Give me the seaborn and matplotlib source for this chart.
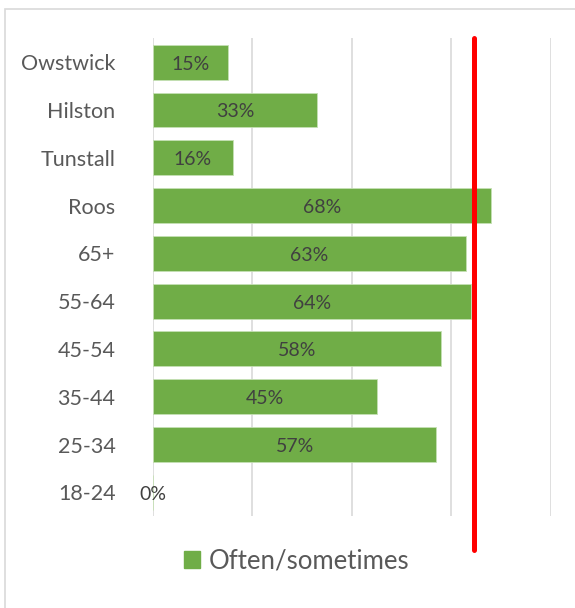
import pandas as pd
import seaborn as sns
from matplotlib import pyplot as plt
from matplotlib.patches import Patch, Rectangle

categories = ["Owstwick", "Hilston", "Tunstall", "Roos", "65+", "55-64",
              "45-54", "35-44", "25-34", "18-24"]
values = [15, 33, 16, 68, 63, 64, 58, 45, 57, 0]
series_name = "Often/sometimes"
reference = 64.5

sns.set_theme(style="white")
plt.rcParams['font.family'] = ['Lato', 'DejaVu Sans']

df = pd.DataFrame({"Area": categories, "Share": values})

fig = plt.figure(figsize=(5.75, 6.08), dpi=100)
ax = fig.add_axes([0.266, 0.151, 0.692, 0.786])

sns.barplot(data=df, x="Share", y="Area", orient="h", color="#70AD47",
            saturation=1, width=0.73, edgecolor="#c5e0b4", linewidth=0.6, ax=ax)

ax.set_xlim(0, 80)
ax.set_xticks([0, 20, 40, 60, 80])
ax.xaxis.grid(True, color="#d9d9d9", linewidth=1.2)
ax.set_axisbelow(True)
ax.tick_params(axis="x", labelbottom=False, length=0)
ax.tick_params(axis="y", length=0, labelsize=15.5, labelcolor="#595959", pad=27)
ax.set_xlabel("")
ax.set_ylabel("")
for s in ax.spines.values():
    s.set_visible(False)

for i, v in enumerate(values):
    ax.text(v / 2, i + 0.04, f"{v}%", ha="center", va="center", fontsize=14, color="#404040")

ax.axvline(reference, ymin=-0.071, ymax=1.0, clip_on=False, color="#ff0000", linewidth=3.6)

ax.legend(handles=[Patch(color="#70AD47", label=series_name)], loc="center",
          bbox_to_anchor=(0.516, 0.077), bbox_transform=fig.transFigure, frameon=False,
          fontsize=18.5, labelcolor="#595959", handlelength=0.6, handleheight=0.6,
          handletextpad=0.35)

fig.patches.append(Rectangle((5 / 575, -0.01), 1.0, 1 - 9 / 608 + 0.01, transform=fig.transFigure,
                             fill=False, edgecolor="#d9d9d9", linewidth=1.2))

fig.savefig("out.png", dpi=100)
